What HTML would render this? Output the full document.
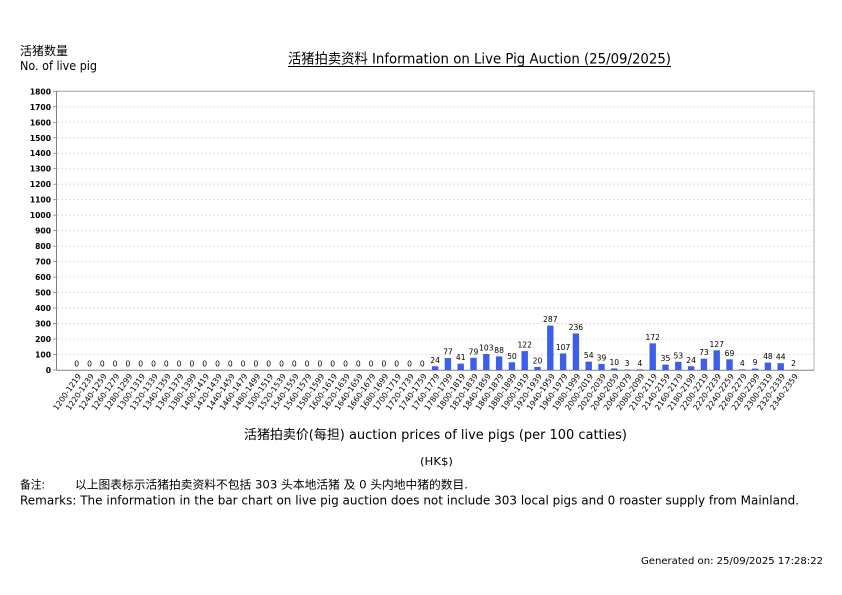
<!DOCTYPE html>
<html><head><meta charset="utf-8"><style>
html,body{margin:0;padding:0;background:#fff;}
svg{display:block;}
text{font-family:"DejaVu Sans","Liberation Sans","Noto Sans CJK SC",sans-serif;fill:#000;}
.cj{font-family:"DejaVu Sans","Noto Sans CJK SC",sans-serif;}
.yt{font-size:7.6px;font-weight:bold;text-anchor:end;}
.vl{font-size:7.6px;text-anchor:middle;}
.xl{font-size:7.8px;text-anchor:end;}
.g{stroke:#d8d8d8;stroke-width:0.8;stroke-dasharray:2,2;}
.b{fill:#3c5ee9;}
</style></head><body>
<svg width="842" height="595" viewBox="0 0 842 595" xmlns="http://www.w3.org/2000/svg">
<rect width="842" height="595" fill="#fff"/>
<text class="cj" x="20" y="55" font-size="12" textLength="48" lengthAdjust="spacingAndGlyphs">活猪数量</text>
<text x="20" y="70" font-size="12" textLength="77" lengthAdjust="spacingAndGlyphs">No. of live pig</text>
<text class="cj" x="288" y="63.5" font-size="14" textLength="383" lengthAdjust="spacingAndGlyphs">活猪拍卖资料 Information on Live Pig Auction (25/09/2025)</text>
<line x1="288" y1="66.5" x2="671" y2="66.5" stroke="#000" stroke-width="1"/>

<!-- grid -->
<g class="g">
<line x1="57" y1="354.52" x2="814" y2="354.52"/>
<line x1="57" y1="339.03" x2="814" y2="339.03"/>
<line x1="57" y1="323.55" x2="814" y2="323.55"/>
<line x1="57" y1="308.07" x2="814" y2="308.07"/>
<line x1="57" y1="292.59" x2="814" y2="292.59"/>
<line x1="57" y1="277.10" x2="814" y2="277.10"/>
<line x1="57" y1="261.62" x2="814" y2="261.62"/>
<line x1="57" y1="246.14" x2="814" y2="246.14"/>
<line x1="57" y1="230.65" x2="814" y2="230.65"/>
<line x1="57" y1="215.17" x2="814" y2="215.17"/>
<line x1="57" y1="199.69" x2="814" y2="199.69"/>
<line x1="57" y1="184.20" x2="814" y2="184.20"/>
<line x1="57" y1="168.72" x2="814" y2="168.72"/>
<line x1="57" y1="153.24" x2="814" y2="153.24"/>
<line x1="57" y1="137.76" x2="814" y2="137.76"/>
<line x1="57" y1="122.27" x2="814" y2="122.27"/>
<line x1="57" y1="106.79" x2="814" y2="106.79"/>
</g>
<!-- border -->
<line x1="56.5" y1="91.3" x2="814" y2="91.3" stroke="#a0a0a0" stroke-width="1"/>
<line x1="814" y1="91.3" x2="814" y2="370" stroke="#b0b0b0" stroke-width="1"/>
<line x1="56.5" y1="91" x2="56.5" y2="370.5" stroke="#808080" stroke-width="1"/>
<line x1="56.5" y1="370.3" x2="814" y2="370.3" stroke="#808080" stroke-width="1"/>
<!-- ticks -->
<g stroke="#808080" stroke-width="0.8">
<line x1="53" y1="370" x2="56.5" y2="370"/>
<line x1="53" y1="354.52" x2="56.5" y2="354.52"/>
<line x1="53" y1="339.03" x2="56.5" y2="339.03"/>
<line x1="53" y1="323.55" x2="56.5" y2="323.55"/>
<line x1="53" y1="308.07" x2="56.5" y2="308.07"/>
<line x1="53" y1="292.59" x2="56.5" y2="292.59"/>
<line x1="53" y1="277.10" x2="56.5" y2="277.10"/>
<line x1="53" y1="261.62" x2="56.5" y2="261.62"/>
<line x1="53" y1="246.14" x2="56.5" y2="246.14"/>
<line x1="53" y1="230.65" x2="56.5" y2="230.65"/>
<line x1="53" y1="215.17" x2="56.5" y2="215.17"/>
<line x1="53" y1="199.69" x2="56.5" y2="199.69"/>
<line x1="53" y1="184.20" x2="56.5" y2="184.20"/>
<line x1="53" y1="168.72" x2="56.5" y2="168.72"/>
<line x1="53" y1="153.24" x2="56.5" y2="153.24"/>
<line x1="53" y1="137.76" x2="56.5" y2="137.76"/>
<line x1="53" y1="122.27" x2="56.5" y2="122.27"/>
<line x1="53" y1="106.79" x2="56.5" y2="106.79"/>
<line x1="53" y1="91.31" x2="56.5" y2="91.31"/>
</g>
<g class="yt">
<text x="51" y="373">0</text>
<text x="51" y="357.5">100</text>
<text x="51" y="342">200</text>
<text x="51" y="326.5">300</text>
<text x="51" y="311">400</text>
<text x="51" y="295.6">500</text>
<text x="51" y="280.1">600</text>
<text x="51" y="264.6">700</text>
<text x="51" y="249.1">800</text>
<text x="51" y="233.6">900</text>
<text x="51" y="218.2">1000</text>
<text x="51" y="202.7">1100</text>
<text x="51" y="187.2">1200</text>
<text x="51" y="171.7">1300</text>
<text x="51" y="156.2">1400</text>
<text x="51" y="140.8">1500</text>
<text x="51" y="125.3">1600</text>
<text x="51" y="109.8">1700</text>
<text x="51" y="94.3">1800</text>
</g>

<!-- bars -->
<g class="b">
<rect x="431.9" y="366.28" width="6.4" height="3.72"/>
<rect x="444.7" y="358.08" width="6.4" height="11.92"/>
<rect x="457.5" y="363.65" width="6.4" height="6.35"/>
<rect x="470.3" y="357.77" width="6.4" height="12.23"/>
<rect x="483.1" y="354.05" width="6.4" height="15.95"/>
<rect x="495.9" y="356.37" width="6.4" height="13.63"/>
<rect x="508.7" y="362.26" width="6.4" height="7.74"/>
<rect x="521.5" y="351.11" width="6.4" height="18.89"/>
<rect x="534.3" y="366.90" width="6.4" height="3.10"/>
<rect x="547.1" y="325.56" width="6.4" height="44.44"/>
<rect x="559.9" y="353.43" width="6.4" height="16.57"/>
<rect x="572.7" y="333.46" width="6.4" height="36.54"/>
<rect x="585.5" y="361.64" width="6.4" height="8.36"/>
<rect x="598.3" y="363.96" width="6.4" height="6.04"/>
<rect x="611.1" y="368.45" width="6.4" height="1.55"/>
<rect x="623.9" y="369.54" width="6.4" height="0.46"/>
<rect x="636.7" y="369.38" width="6.4" height="0.62"/>
<rect x="649.5" y="343.37" width="6.4" height="26.63"/>
<rect x="662.3" y="364.58" width="6.4" height="5.42"/>
<rect x="675.1" y="361.79" width="6.4" height="8.21"/>
<rect x="687.9" y="366.28" width="6.4" height="3.72"/>
<rect x="700.7" y="358.70" width="6.4" height="11.30"/>
<rect x="713.5" y="350.34" width="6.4" height="19.66"/>
<rect x="726.3" y="359.32" width="6.4" height="10.68"/>
<rect x="739.1" y="369.38" width="6.4" height="0.62"/>
<rect x="751.9" y="368.61" width="6.4" height="1.39"/>
<rect x="764.7" y="362.57" width="6.4" height="7.43"/>
<rect x="777.5" y="363.19" width="6.4" height="6.81"/>
<rect x="790.3" y="369.69" width="6.4" height="0.31"/>
</g>

<!-- value labels -->
<g class="vl">
<text x="76.7" y="366.5">0</text>
<text x="89.5" y="366.5">0</text>
<text x="102.3" y="366.5">0</text>
<text x="115.1" y="366.5">0</text>
<text x="127.9" y="366.5">0</text>
<text x="140.7" y="366.5">0</text>
<text x="153.5" y="366.5">0</text>
<text x="166.3" y="366.5">0</text>
<text x="179.1" y="366.5">0</text>
<text x="191.9" y="366.5">0</text>
<text x="204.7" y="366.5">0</text>
<text x="217.5" y="366.5">0</text>
<text x="230.3" y="366.5">0</text>
<text x="243.1" y="366.5">0</text>
<text x="255.9" y="366.5">0</text>
<text x="268.7" y="366.5">0</text>
<text x="281.5" y="366.5">0</text>
<text x="294.3" y="366.5">0</text>
<text x="307.1" y="366.5">0</text>
<text x="319.9" y="366.5">0</text>
<text x="332.7" y="366.5">0</text>
<text x="345.5" y="366.5">0</text>
<text x="358.3" y="366.5">0</text>
<text x="371.1" y="366.5">0</text>
<text x="383.9" y="366.5">0</text>
<text x="396.7" y="366.5">0</text>
<text x="409.5" y="366.5">0</text>
<text x="422.3" y="366.5">0</text>
<text x="435.1" y="362.8">24</text>
<text x="447.9" y="354.6">77</text>
<text x="460.7" y="360.2">41</text>
<text x="473.5" y="354.3">79</text>
<text x="486.3" y="350.6">103</text>
<text x="499.1" y="352.9">88</text>
<text x="511.9" y="358.8">50</text>
<text x="524.7" y="347.6">122</text>
<text x="537.5" y="363.4">20</text>
<text x="550.3" y="322.1">287</text>
<text x="563.1" y="349.9">107</text>
<text x="575.9" y="330.0">236</text>
<text x="588.7" y="358.1">54</text>
<text x="601.5" y="360.5">39</text>
<text x="614.3" y="365.0">10</text>
<text x="627.1" y="366.0">3</text>
<text x="639.9" y="365.9">4</text>
<text x="652.7" y="339.9">172</text>
<text x="665.5" y="361.1">35</text>
<text x="678.3" y="358.3">53</text>
<text x="691.1" y="362.8">24</text>
<text x="703.9" y="355.2">73</text>
<text x="716.7" y="346.8">127</text>
<text x="729.5" y="355.8">69</text>
<text x="742.3" y="365.9">4</text>
<text x="755.1" y="365.1">9</text>
<text x="767.9" y="359.1">48</text>
<text x="780.7" y="359.7">44</text>
<text x="793.5" y="366.2">2</text>
</g>

<!-- x labels -->
<g class="xl">
<text transform="translate(79.2,374.5) rotate(-55)" dy="2.8">1200-1219</text>
<text transform="translate(92.0,374.5) rotate(-55)" dy="2.8">1220-1239</text>
<text transform="translate(104.8,374.5) rotate(-55)" dy="2.8">1240-1259</text>
<text transform="translate(117.6,374.5) rotate(-55)" dy="2.8">1260-1279</text>
<text transform="translate(130.4,374.5) rotate(-55)" dy="2.8">1280-1299</text>
<text transform="translate(143.2,374.5) rotate(-55)" dy="2.8">1300-1319</text>
<text transform="translate(156.0,374.5) rotate(-55)" dy="2.8">1320-1339</text>
<text transform="translate(168.8,374.5) rotate(-55)" dy="2.8">1340-1359</text>
<text transform="translate(181.6,374.5) rotate(-55)" dy="2.8">1360-1379</text>
<text transform="translate(194.4,374.5) rotate(-55)" dy="2.8">1380-1399</text>
<text transform="translate(207.2,374.5) rotate(-55)" dy="2.8">1400-1419</text>
<text transform="translate(220.0,374.5) rotate(-55)" dy="2.8">1420-1439</text>
<text transform="translate(232.8,374.5) rotate(-55)" dy="2.8">1440-1459</text>
<text transform="translate(245.6,374.5) rotate(-55)" dy="2.8">1460-1479</text>
<text transform="translate(258.4,374.5) rotate(-55)" dy="2.8">1480-1499</text>
<text transform="translate(271.2,374.5) rotate(-55)" dy="2.8">1500-1519</text>
<text transform="translate(284.0,374.5) rotate(-55)" dy="2.8">1520-1539</text>
<text transform="translate(296.8,374.5) rotate(-55)" dy="2.8">1540-1559</text>
<text transform="translate(309.6,374.5) rotate(-55)" dy="2.8">1560-1579</text>
<text transform="translate(322.4,374.5) rotate(-55)" dy="2.8">1580-1599</text>
<text transform="translate(335.2,374.5) rotate(-55)" dy="2.8">1600-1619</text>
<text transform="translate(348.0,374.5) rotate(-55)" dy="2.8">1620-1639</text>
<text transform="translate(360.8,374.5) rotate(-55)" dy="2.8">1640-1659</text>
<text transform="translate(373.6,374.5) rotate(-55)" dy="2.8">1660-1679</text>
<text transform="translate(386.4,374.5) rotate(-55)" dy="2.8">1680-1699</text>
<text transform="translate(399.2,374.5) rotate(-55)" dy="2.8">1700-1719</text>
<text transform="translate(412.0,374.5) rotate(-55)" dy="2.8">1720-1739</text>
<text transform="translate(424.8,374.5) rotate(-55)" dy="2.8">1740-1759</text>
<text transform="translate(437.6,374.5) rotate(-55)" dy="2.8">1760-1779</text>
<text transform="translate(450.4,374.5) rotate(-55)" dy="2.8">1780-1799</text>
<text transform="translate(463.2,374.5) rotate(-55)" dy="2.8">1800-1819</text>
<text transform="translate(476.0,374.5) rotate(-55)" dy="2.8">1820-1839</text>
<text transform="translate(488.8,374.5) rotate(-55)" dy="2.8">1840-1859</text>
<text transform="translate(501.6,374.5) rotate(-55)" dy="2.8">1860-1879</text>
<text transform="translate(514.4,374.5) rotate(-55)" dy="2.8">1880-1899</text>
<text transform="translate(527.2,374.5) rotate(-55)" dy="2.8">1900-1919</text>
<text transform="translate(540.0,374.5) rotate(-55)" dy="2.8">1920-1939</text>
<text transform="translate(552.8,374.5) rotate(-55)" dy="2.8">1940-1959</text>
<text transform="translate(565.6,374.5) rotate(-55)" dy="2.8">1960-1979</text>
<text transform="translate(578.4,374.5) rotate(-55)" dy="2.8">1980-1999</text>
<text transform="translate(591.2,374.5) rotate(-55)" dy="2.8">2000-2019</text>
<text transform="translate(604.0,374.5) rotate(-55)" dy="2.8">2020-2039</text>
<text transform="translate(616.8,374.5) rotate(-55)" dy="2.8">2040-2059</text>
<text transform="translate(629.6,374.5) rotate(-55)" dy="2.8">2060-2079</text>
<text transform="translate(642.4,374.5) rotate(-55)" dy="2.8">2080-2099</text>
<text transform="translate(655.2,374.5) rotate(-55)" dy="2.8">2100-2119</text>
<text transform="translate(668.0,374.5) rotate(-55)" dy="2.8">2140-2159</text>
<text transform="translate(680.8,374.5) rotate(-55)" dy="2.8">2160-2179</text>
<text transform="translate(693.6,374.5) rotate(-55)" dy="2.8">2180-2199</text>
<text transform="translate(706.4,374.5) rotate(-55)" dy="2.8">2200-2219</text>
<text transform="translate(719.2,374.5) rotate(-55)" dy="2.8">2220-2239</text>
<text transform="translate(732.0,374.5) rotate(-55)" dy="2.8">2240-2259</text>
<text transform="translate(744.8,374.5) rotate(-55)" dy="2.8">2260-2279</text>
<text transform="translate(757.6,374.5) rotate(-55)" dy="2.8">2280-2299</text>
<text transform="translate(770.4,374.5) rotate(-55)" dy="2.8">2300-2319</text>
<text transform="translate(783.2,374.5) rotate(-55)" dy="2.8">2320-2339</text>
<text transform="translate(796.0,374.5) rotate(-55)" dy="2.8">2340-2359</text>
</g>

<!-- axis titles -->
<text class="cj" x="244" y="439" font-size="13" textLength="383" lengthAdjust="spacingAndGlyphs">活猪拍卖价(每担) auction prices of live pigs (per 100 catties)</text>
<text x="420" y="465" font-size="11" textLength="33" lengthAdjust="spacingAndGlyphs">(HK$)</text>

<!-- remarks -->
<text class="cj" x="20" y="488.5" font-size="11.5" textLength="25" lengthAdjust="spacingAndGlyphs">备注:</text>
<text class="cj" x="75" y="488.5" font-size="11.5" textLength="393" lengthAdjust="spacingAndGlyphs">以上图表标示活猪拍卖资料不包括 303 头本地活猪 及 0 头内地中猪的数目.</text>
<text x="20" y="504.5" font-size="12" textLength="779" lengthAdjust="spacingAndGlyphs">Remarks: The information in the bar chart on live pig auction does not include 303 local pigs and 0 roaster supply from Mainland.</text>

<text x="641" y="564" font-size="10" textLength="182" lengthAdjust="spacingAndGlyphs">Generated on: 25/09/2025 17:28:22</text>
</svg>
</body></html>
